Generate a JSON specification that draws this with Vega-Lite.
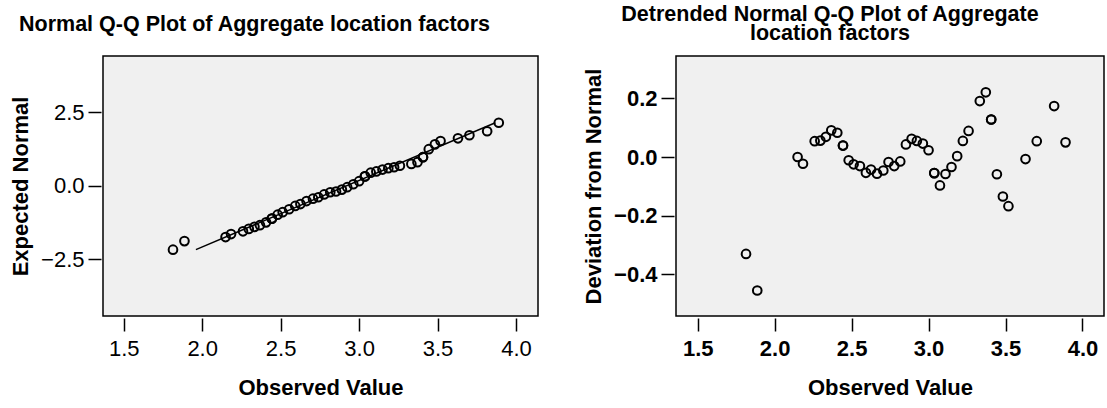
{
  "$schema": "https://vega.github.io/schema/vega-lite/v6.json",
  "background": "white",
  "padding": {"left": 8, "top": 2, "right": 0, "bottom": 0},
  "bounds": "flush",
  "spacing": 138,
  "config": {
    "font": "Liberation Sans",
    "view": {"fill": "#f0f0f0", "stroke": "black", "strokeWidth": 1.5},
    "axis": {
      "grid": false, "domain": false, "ticks": true, "tickSize": 13, "tickWidth": 1.5,
      "tickColor": "black", "offset": 2, "labelFont": "Liberation Sans", "labelFontSize": 22,
      "labelColor": "black", "labelPadding": 4, "titleFont": "Liberation Sans", "titleFontSize": 22,
      "titleFontWeight": "bold", "titleColor": "black"
    },
    "axisX": {"titlePadding": 18, "labelPadding": 7},
    "axisY": {"titlePadding": 8}
  },
  "datasets": {
    "qq": [
      {"observed": 1.814, "expected": -2.172, "deviation": -0.331},
      {"observed": 1.887, "expected": -1.881, "deviation": -0.456},
      {"observed": 2.149, "expected": -1.744, "deviation": 0.000},
      {"observed": 2.184, "expected": -1.642, "deviation": -0.023},
      {"observed": 2.260, "expected": -1.547, "deviation": 0.054},
      {"observed": 2.297, "expected": -1.465, "deviation": 0.056},
      {"observed": 2.333, "expected": -1.396, "deviation": 0.069},
      {"observed": 2.368, "expected": -1.339, "deviation": 0.091},
      {"observed": 2.407, "expected": -1.243, "deviation": 0.083},
      {"observed": 2.444, "expected": -1.115, "deviation": 0.039},
      {"observed": 2.444, "expected": -1.115, "deviation": 0.039},
      {"observed": 2.481, "expected": -0.981, "deviation": -0.011},
      {"observed": 2.513, "expected": -0.895, "deviation": -0.025},
      {"observed": 2.554, "expected": -0.796, "deviation": -0.031},
      {"observed": 2.593, "expected": -0.684, "deviation": -0.054},
      {"observed": 2.626, "expected": -0.621, "deviation": -0.043},
      {"observed": 2.665, "expected": -0.518, "deviation": -0.057},
      {"observed": 2.706, "expected": -0.436, "deviation": -0.046},
      {"observed": 2.740, "expected": -0.388, "deviation": -0.017},
      {"observed": 2.777, "expected": -0.291, "deviation": -0.031},
      {"observed": 2.816, "expected": -0.218, "deviation": -0.015},
      {"observed": 2.853, "expected": -0.192, "deviation": 0.043},
      {"observed": 2.890, "expected": -0.128, "deviation": 0.062},
      {"observed": 2.924, "expected": -0.044, "deviation": 0.055},
      {"observed": 2.963, "expected": 0.054, "deviation": 0.046},
      {"observed": 3.000, "expected": 0.160, "deviation": 0.023},
      {"observed": 3.037, "expected": 0.322, "deviation": -0.055},
      {"observed": 3.037, "expected": 0.322, "deviation": -0.055},
      {"observed": 3.074, "expected": 0.448, "deviation": -0.097},
      {"observed": 3.110, "expected": 0.491, "deviation": -0.058},
      {"observed": 3.149, "expected": 0.555, "deviation": -0.034},
      {"observed": 3.186, "expected": 0.602, "deviation": 0.003},
      {"observed": 3.223, "expected": 0.634, "deviation": 0.055},
      {"observed": 3.260, "expected": 0.683, "deviation": 0.089},
      {"observed": 3.333, "expected": 0.747, "deviation": 0.191},
      {"observed": 3.372, "expected": 0.805, "deviation": 0.221},
      {"observed": 3.407, "expected": 0.977, "deviation": 0.128},
      {"observed": 3.407, "expected": 0.977, "deviation": 0.128},
      {"observed": 3.444, "expected": 1.248, "deviation": -0.059},
      {"observed": 3.483, "expected": 1.412, "deviation": -0.135},
      {"observed": 3.519, "expected": 1.527, "deviation": -0.168},
      {"observed": 3.630, "expected": 1.617, "deviation": -0.007},
      {"observed": 3.703, "expected": 1.722, "deviation": 0.054},
      {"observed": 3.816, "expected": 1.858, "deviation": 0.174},
      {"observed": 3.890, "expected": 2.149, "deviation": 0.050}
    ],
    "refline": [
      {"observed": 1.960, "expected": -2.172},
      {"observed": 3.868, "expected": 2.149}
    ]
  },
  "hconcat": [
    {
      "width": 435,
      "height": 260,
      "title": {
        "text": "Normal Q-Q Plot of Aggregate location factors",
        "anchor": "start", "frame": "group", "dx": -84, "offset": -1, "baseline": "bottom",
        "fontSize": 21.5, "fontWeight": "bold", "font": "Liberation Sans", "color": "black"
      },
      "layer": [
        {
          "data": {"name": "refline"},
          "mark": {"type": "line", "color": "black", "strokeWidth": 1.5},
          "encoding": {
            "x": {"field": "observed", "type": "quantitative", "scale": {"domain": [1.368, 4.14], "nice": false, "zero": false},
                  "axis": {"values": [1.5, 2, 2.5, 3, 3.5, 4], "format": ".1f", "title": "Observed Value", "labelFontWeight": "normal"}},
            "y": {"field": "expected", "type": "quantitative", "scale": {"domain": [-4.43, 4.42], "nice": false, "zero": false},
                  "axis": {"values": [-2.5, 0, 2.5], "format": ".1f", "title": "Expected Normal", "labelFontWeight": "normal"}}
          }
        },
        {
          "data": {"name": "qq"},
          "mark": {"type": "point", "shape": "circle", "filled": false, "color": "black", "size": 75, "strokeWidth": 2, "opacity": 1},
          "encoding": {
            "x": {"field": "observed", "type": "quantitative"},
            "y": {"field": "expected", "type": "quantitative"}
          }
        }
      ]
    },
    {
      "width": 428,
      "height": 260,
      "title": {
        "text": ["Detrended Normal Q-Q Plot of Aggregate", "location factors"],
        "anchor": "middle", "frame": "group", "dx": -60, "offset": -10, "baseline": "bottom", "lineHeight": 19,
        "fontSize": 21.5, "fontWeight": "bold", "font": "Liberation Sans", "color": "black"
      },
      "layer": [
        {
          "mark": {"type": "rule", "color": "black", "strokeWidth": 1.5},
          "encoding": {"y": {"datum": 0}}
        },
        {
          "data": {"name": "qq"},
          "mark": {"type": "point", "shape": "circle", "filled": false, "color": "black", "size": 75, "strokeWidth": 2, "opacity": 1},
          "encoding": {
            "x": {"field": "observed", "type": "quantitative", "scale": {"domain": [1.359, 4.14], "nice": false, "zero": false},
                  "axis": {"values": [1.5, 2, 2.5, 3, 3.5, 4], "format": ".1f", "title": "Observed Value", "labelFontWeight": "bold"}},
            "y": {"field": "deviation", "type": "quantitative", "scale": {"domain": [-0.543, 0.345], "nice": false, "zero": false},
                  "axis": {"values": [-0.4, -0.2, 0, 0.2], "format": ".1f", "title": "Deviation from Normal", "labelFontWeight": "bold"}}
          }
        }
      ]
    }
  ]
}
